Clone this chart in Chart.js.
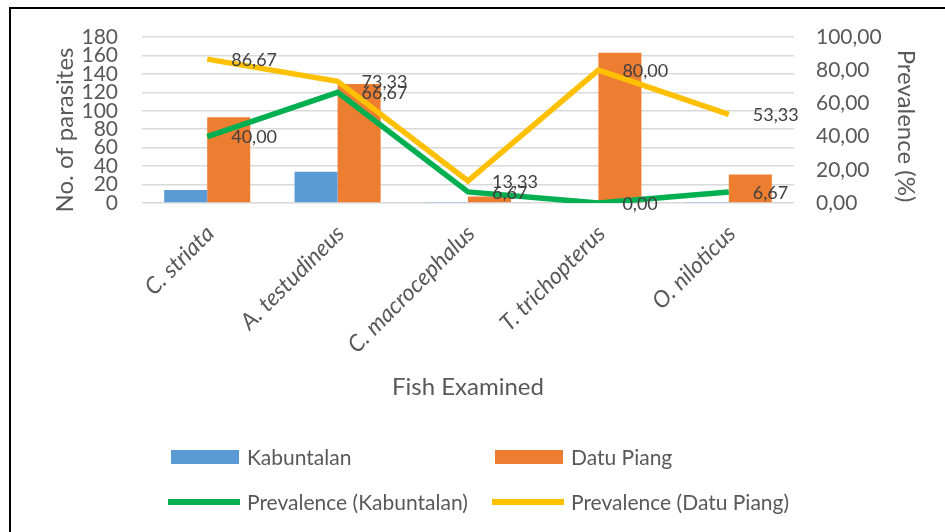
<!DOCTYPE html>
<html>
<head>
<meta charset="utf-8">
<script src="https://cdn.jsdelivr.net/npm/chart.js@4/dist/chart.umd.min.js"></script>
<style>
  html, body { margin: 0; padding: 0; background: #fff; }
  #chart { display: block; }
</style>
</head>
<body>
<canvas id="chart" width="945" height="532"></canvas>
<script>
// Data
const categories = ['C. striata', 'A. testudineus', 'C. macrocephalus', 'T. trichopterus', 'O. niloticus'];
const kabuntalanCounts = [14, 34, 1, 0, 1];
const datuPiangCounts = [93, 129, 7, 163, 31];
const prevalenceKabuntalan = [40.00, 66.67, 6.67, 0.00, 6.67];
const prevalenceDatuPiang = [86.67, 73.33, 13.33, 80.00, 53.33];

const FONT = 'Lato, "Open Sans", sans-serif';
const TEXT = '#595959';
const LABEL = '#404040';

const fmt = (v) => Number(v).toFixed(2).replace('.', ',');

// Data labels to the right of line points (Excel "Right" position)
const lineLabels = {
    id: 'lineLabels',
    afterDatasetsDraw(chart) {
        const ctx = chart.ctx;
        ctx.save();
        ctx.font = `18px ${FONT}`;
        ctx.fillStyle = LABEL;
        ctx.textAlign = 'left';
        ctx.textBaseline = 'middle';
        chart.data.datasets.forEach((ds, i) => {
            if (ds.type !== 'line') return;
            chart.getDatasetMeta(i).data.forEach((pt, j) => {
                ctx.fillText(fmt(ds.data[j]), pt.x + 24, pt.y + 1);
            });
        });
        ctx.restore();
    }
};

// Frame, axis titles and 2x2 legend
const decorations = {
    id: 'decorations',
    afterDraw(chart) {
        const ctx = chart.ctx;
        const area = chart.chartArea;
        ctx.save();
        ctx.strokeStyle = '#000';
        ctx.lineWidth = 2;
        ctx.beginPath();
        ctx.moveTo(10, 532);
        ctx.lineTo(10, 8);
        ctx.lineTo(945, 8);
        ctx.stroke();

        ctx.fillStyle = TEXT;
        ctx.font = `24px ${FONT}`;
        ctx.textAlign = 'center';
        ctx.textBaseline = 'middle';
        ctx.fillText('Fish Examined', (area.left + area.right) / 2, 387);

        ctx.save();
        ctx.translate(65, 130);
        ctx.rotate(-Math.PI / 2);
        ctx.fillText('No. of parasites', 0, 0);
        ctx.restore();

        ctx.save();
        ctx.translate(906, 126);
        ctx.rotate(Math.PI / 2);
        ctx.fillText('Prevalence (%)', 0, 0);
        ctx.restore();

        const ds = chart.data.datasets;
        const items = [
            { d: ds.find(d => d.label === 'Kabuntalan'), x: 171, y: 457 },
            { d: ds.find(d => d.label === 'Datu Piang'), x: 495, y: 457 },
            { d: ds.find(d => d.label === 'Prevalence (Kabuntalan)'), x: 171, y: 502 },
            { d: ds.find(d => d.label === 'Prevalence (Datu Piang)'), x: 495, y: 502 },
        ];
        ctx.font = `21px ${FONT}`;
        ctx.textAlign = 'left';
        items.forEach(({ d, x, y }) => {
            if (d.type === 'line') {
                ctx.fillStyle = d.borderColor;
                ctx.fillRect(x - 3, y - 3, 72, 6);
            } else {
                ctx.fillStyle = d.backgroundColor;
                ctx.fillRect(x, y - 7, 68, 14);
            }
            ctx.fillStyle = TEXT;
            ctx.fillText(d.label, x + 76, y + 1);
        });
        ctx.restore();
    }
};

new Chart(document.getElementById('chart'), {
    data: {
        labels: categories,
        datasets: [
            { type: 'line', label: 'Prevalence (Datu Piang)', data: prevalenceDatuPiang, yAxisID: 'y1',
              borderColor: '#FFC000', borderWidth: 5.5, pointRadius: 0, tension: 0, order: 0 },
            { type: 'line', label: 'Prevalence (Kabuntalan)', data: prevalenceKabuntalan, yAxisID: 'y1',
              borderColor: '#00B050', borderWidth: 5.5, pointRadius: 0, tension: 0, order: 1 },
            { type: 'bar', label: 'Kabuntalan', data: kabuntalanCounts, yAxisID: 'y',
              backgroundColor: '#5B9BD5', categoryPercentage: 0.66, barPercentage: 1, order: 2 },
            { type: 'bar', label: 'Datu Piang', data: datuPiangCounts, yAxisID: 'y',
              backgroundColor: '#ED7D31', categoryPercentage: 0.66, barPercentage: 1, order: 3 },
        ]
    },
    options: {
        responsive: false,
        animation: false,
        layout: { padding: { left: 0, right: 0, top: 37, bottom: 0 } },
        plugins: { legend: { display: false }, tooltip: { enabled: false } },
        scales: {
            x: {
                grid: { display: false },
                border: { display: false },
                ticks: { color: TEXT, font: { family: FONT, size: 23, style: 'italic' },
                         minRotation: 45, maxRotation: 45, padding: 9, labelOffset: 3, autoSkip: false },
                afterFit: (s) => { s.height = 329; }
            },
            y: {
                position: 'left',
                min: 0, max: 180,
                grid: { color: '#D9D9D9', lineWidth: 1.5, drawTicks: false },
                border: { display: false },
                ticks: { stepSize: 20, autoSkip: false, color: TEXT, font: { family: FONT, size: 21 }, padding: 24 },
                afterFit: (s) => { s.width = 142; }
            },
            y1: {
                position: 'right',
                min: 0, max: 100,
                grid: { display: false },
                border: { display: false },
                ticks: { stepSize: 20, autoSkip: false, color: TEXT, font: { family: FONT, size: 21 }, padding: 14,
                         callback: (v) => fmt(v) },
                afterFit: (s) => { s.width = 151; }
            }
        }
    },
    plugins: [lineLabels, decorations]
});
</script>
</body>
</html>
